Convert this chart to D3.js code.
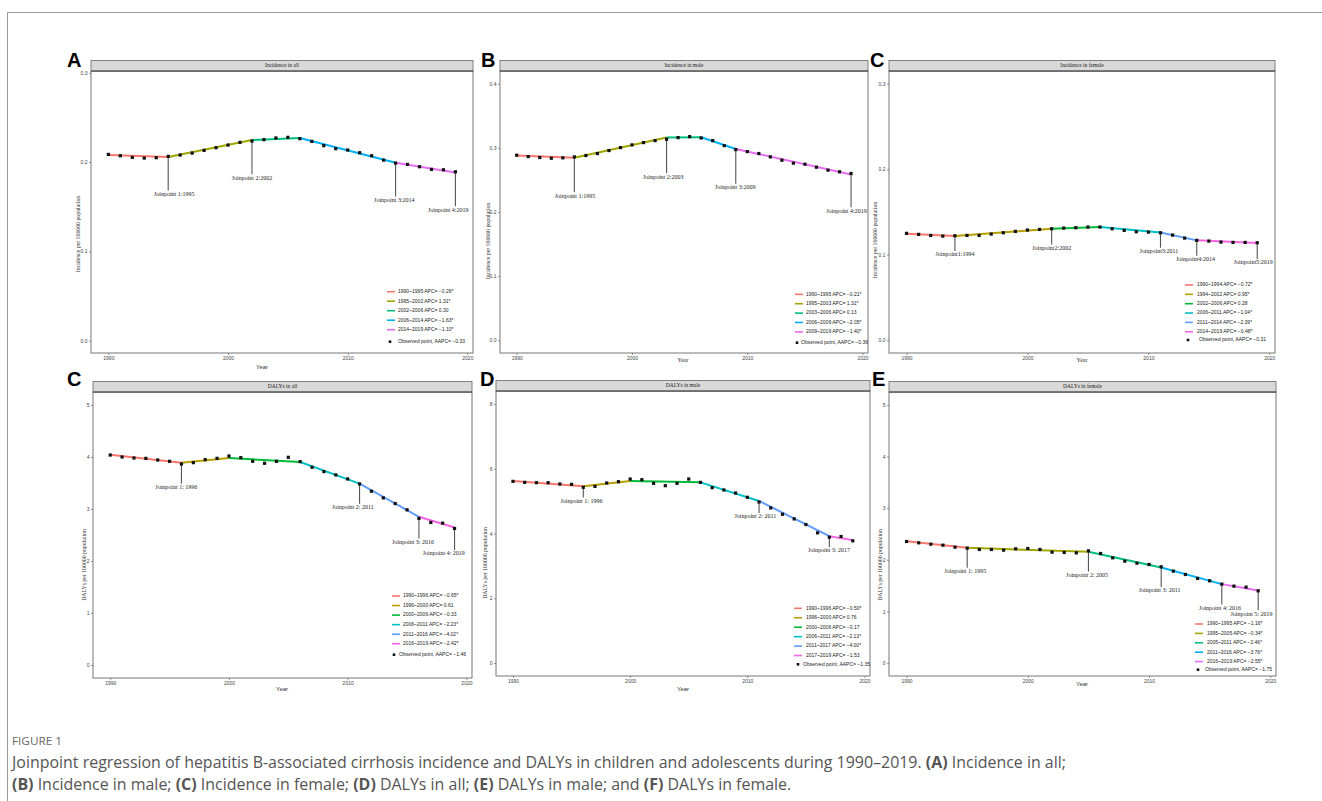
<!DOCTYPE html>
<html>
<head>
<meta charset="utf-8">
<script src="https://cdn.jsdelivr.net/npm/d3@7"></script>
<style>
  body { margin: 0; background: #fff; }
  svg { display: block; }
</style>
</head>
<body>
<div id="chart"></div>
<script>
const years = [1990,1991,1992,1993,1994,1995,1996,1997,1998,1999,2000,2001,2002,2003,2004,
               2005,2006,2007,2008,2009,2010,2011,2012,2013,2014,2015,2016,2017,2018,2019];
const xTicks = [1990, 2000, 2010, 2020];

// A: incidence in all
const incAllObs = [0.2086,0.2071,0.2052,0.2045,0.2049,0.2064,0.2079,0.2101,0.2131,0.2161,0.2191,0.2221,0.2236,0.2251,0.2270,
                   0.2277,0.2262,0.2232,0.2184,0.2150,0.2135,0.2105,0.2071,0.2022,0.1989,0.1974,0.1948,0.1918,0.1914,0.1891];
const incAllJoin = [1990,1995,2002,2006,2014,2019];
const incAllFit = [0.2079,0.2056,0.2247,0.2270,0.1993,0.1884];
const incAllLegend = ["1990~1995 APC= \u22120.26*","1995~2002 APC= 1.31*","2002~2006 APC= 0.30","2006~2014 APC= \u22121.63*","2014~2019 APC= \u22121.10*"];
const incAllAapc = "Observed point, AAPC= \u22120.33";
const incAllJpYear = [1995,2002,2014,2019];
const incAllJpText = ["Joinpoint 1:1995","Joinpoint 2:2002","Joinpoint 3:2014","Joinpoint 4:2019"];
const incAllJpX = [1995.5,2002.0,2013.9,2018.4];
const incAllJpY = [0.1637,0.1820,0.1569,0.1461];

// B: incidence in male
const incMaleObs = [0.2886,0.2865,0.2850,0.2839,0.2845,0.2860,0.2881,0.2912,0.2959,0.3005,0.3047,0.3083,0.3114,0.3135,0.3161,
                    0.3176,0.3155,0.3114,0.3036,0.2974,0.2943,0.2912,0.2860,0.2808,0.2762,0.2746,0.2699,0.2653,0.2627,0.2601];
const incMaleJoin = [1990,1995,2003,2006,2009,2019];
const incMaleFit = [0.2881,0.2845,0.3161,0.3166,0.2984,0.2585];
const incMaleLegend = ["1990~1995 APC= \u22120.21*","1995~2003 APC= 1.31*","2003~2006 APC= 0.13","2006~2009 APC= \u22122.05*","2009~2019 APC= \u22121.40*"];
const incMaleAapc = "Observed point, AAPC= \u22120.36";
const incMaleJpYear = [1995,2003,2009,2019];
const incMaleJpText = ["Joinpoint 1:1995","Joinpoint 2:2003","Joinpoint 3:2009","Joinpoint 4:2019"];
const incMaleJpX = [1995.05,2002.7,2008.95,2018.6];
const incMaleJpY = [0.2244,0.2544,0.2378,0.2010];

// C: incidence in female
const incFemaleObs = [0.1250,0.1238,0.1226,0.1218,0.1222,0.1226,0.1226,0.1242,0.1257,0.1273,0.1289,0.1296,0.1304,0.1312,0.1316,
                      0.1324,0.1324,0.1304,0.1285,0.1269,0.1265,0.1257,0.1230,0.1195,0.1168,0.1160,0.1148,0.1144,0.1144,0.1140];
const incFemaleJoin = [1990,1994,2002,2006,2011,2014,2019];
const incFemaleFit = [0.1246,0.1218,0.1304,0.1324,0.1261,0.1168,0.1136];
const incFemaleLegend = ["1990~1994 APC= \u22120.72*","1994~2002 APC= 0.95*","2002~2006 APC= 0.28","2006~2011 APC= \u22121.04*","2011~2014 APC= \u22122.39*","2014~2019 APC= \u22120.48*"];
const incFemaleAapc = "Observed point, AAPC= \u22120.31";
const incFemaleJpYear = [1994,2002,2011,2014,2019];
const incFemaleJpText = ["Joinpoint1:1994","Joinpoint2:2002","Joinpoint3:2011","Joinpoint4:2014","Joinpoint5:2019"];
const incFemaleJpX = [1994.0,2002.0,2010.87,2013.9,2018.67];
const incFemaleJpY = [0.0996,0.1074,0.1035,0.0942,0.0903];

// D: DALYs in all
const dalyAllObs = [4.038,4.000,3.981,3.974,3.942,3.917,3.866,3.891,3.949,3.974,4.019,3.987,3.917,3.879,3.917,
                    3.994,3.911,3.802,3.719,3.655,3.578,3.482,3.342,3.214,3.105,2.984,2.818,2.741,2.728,2.626];
const dalyAllJoin = [1990,1996,2000,2006,2011,2016,2019];
const dalyAllFit = [4.045,3.891,3.981,3.904,3.489,2.850,2.645];
const dalyAllLegend = ["1990~1996 APC= \u22120.65*","1996~2000 APC= 0.61","2000~2006 APC= \u22120.33","2006~2011 APC= \u22122.23*","2011~2016 APC= \u22124.02*","2016~2019 APC= \u22122.42*"];
const dalyAllAapc = "Observed point, AAPC= \u22121.46";
const dalyAllJpYear = [1996,2011,2016,2019];
const dalyAllJpText = ["Joinpoint 1: 1996","Joinpoint 2: 2011","Joinpoint 3: 2016","Joinpoint 4: 2019"];
const dalyAllJpX = [1995.57,2010.43,2015.5,2018.09];
const dalyAllJpY = [3.412,3.022,2.358,2.134];

// E: DALYs in male
const dalyMaleObs = [5.610,5.579,5.569,5.569,5.528,5.518,5.426,5.456,5.559,5.600,5.682,5.662,5.549,5.477,5.549,
                     5.682,5.579,5.415,5.344,5.251,5.118,4.974,4.790,4.595,4.451,4.277,4.021,3.887,3.908,3.774];
const dalyMaleJoin = [1990,1996,2000,2006,2011,2017,2019];
const dalyMaleFit = [5.621,5.456,5.621,5.579,5.005,3.918,3.795];
const dalyMaleLegend = ["1990~1996 APC= \u22120.50*","1996~2000 APC= 0.76","2000~2006 APC= \u22120.17","2006~2011 APC= \u22122.13*","2011~2017 APC= \u22124.00*","2017~2019 APC= \u22121.53"];
const dalyMaleAapc = "Observed point, AAPC= \u22121.35";
const dalyMaleJpYear = [1996,2011,2017];
const dalyMaleJpText = ["Joinpoint 1: 1996","Joinpoint 2: 2011","Joinpoint 3: 2017"];
const dalyMaleJpX = [1995.84,2010.68,2016.97];
const dalyMaleJpY = [4.985,4.513,3.456];

// F: DALYs in female
const dalyFemaleObs = [2.355,2.329,2.303,2.284,2.245,2.226,2.200,2.200,2.187,2.213,2.219,2.200,2.148,2.142,2.135,
                       2.174,2.123,2.039,1.974,1.935,1.910,1.865,1.781,1.716,1.639,1.594,1.529,1.490,1.471,1.400];
const dalyFemaleJoin = [1990,1995,2005,2011,2016,2019];
const dalyFemaleFit = [2.361,2.232,2.155,1.852,1.529,1.406];
const dalyFemaleLegend = ["1990~1995 APC= \u22121.16*","1995~2005 APC= \u22120.34*","2005~2011 APC= \u22122.46*","2011~2016 APC= \u22123.76*","2016~2019 APC= \u22122.55*"];
const dalyFemaleAapc = "Observed point, AAPC= \u22121.75";
const dalyFemaleJpYear = [1995,2005,2011,2016,2019];
const dalyFemaleJpText = ["Joinpoint 1: 1995","Joinpoint 2: 2005","Joinpoint 3: 2011","Joinpoint 4: 2016","Joinpoint 5: 2019"];
const dalyFemaleJpX = [1994.83,2004.89,2010.87,2015.86,2018.45];
const dalyFemaleJpY = [1.768,1.697,1.394,1.058,0.948];

const hue5 = ["#F8766D","#A3A500","#00BF7D","#00B0F6","#E76BF3"];
const hue6 = ["#F8766D","#B79F00","#00BA38","#00BFC4","#619CFF","#F564E3"];

const width = 1322, height = 801;
const serif = "'Liberation Serif', 'Times New Roman', serif";
const sans = "'Liberation Sans', Arial, sans-serif";

const panels = [
  {letter:"A", title:"Incidence in all", ylab:"Incidence per 100000 population",
   obs:incAllObs, join:incAllJoin, fit:incAllFit, legend:incAllLegend, aapc:incAllAapc,
   jpYear:incAllJpYear, jpText:incAllJpText, jpX:incAllJpX, jpY:incAllJpY, colors:hue5, yTicks:[0,0.1,0.2,0.3], fmt:".1f",
   box:{x0:91, x1:473, y0:71, y1:353}, yDom:[-0.0138,0.302], letterPos:[67,67],
   ylabPos:[79,234], xlabPos:[262,367], xlabFont:sans,
   leg:{lx:387, tx:398, y0:291.7, dy:9.5, ox:390, otx:398, oy:341.7}},
  {letter:"B", title:"Incidence in male", ylab:"Incidence per 100000 population",
   obs:incMaleObs, join:incMaleJoin, fit:incMaleFit, legend:incMaleLegend, aapc:incMaleAapc,
   jpYear:incMaleJpYear, jpText:incMaleJpText, jpX:incMaleJpX, jpY:incMaleJpY, colors:hue5, yTicks:[0,0.1,0.2,0.3,0.4], fmt:".1f",
   box:{x0:500, x1:868, y0:71, y1:353}, yDom:[-0.02,0.42], letterPos:[481,67],
   ylabPos:[489,241], xlabPos:[683,361], xlabFont:serif,
   leg:{lx:795, tx:806, y0:294.3, dy:9.4, ox:797, otx:801, oy:342.7}},
  {letter:"C", title:"Incidence in female", ylab:"Incidence per 100000 population",
   obs:incFemaleObs, join:incFemaleJoin, fit:incFemaleFit, legend:incFemaleLegend, aapc:incFemaleAapc,
   jpYear:incFemaleJpYear, jpText:incFemaleJpText, jpX:incFemaleJpX, jpY:incFemaleJpY, colors:hue6, yTicks:[0,0.1,0.2,0.3], fmt:".1f",
   box:{x0:889, x1:1275, y0:71, y1:353}, yDom:[-0.015,0.315], letterPos:[870,67],
   ylabPos:[876,240], xlabPos:[1082,361], xlabFont:serif,
   leg:{lx:1185, tx:1197, y0:285, dy:9.35, ox:1188, otx:1199, oy:340}},
  {letter:"C", title:"DALYs in all", ylab:"DALYs per 100000 population",
   obs:dalyAllObs, join:dalyAllJoin, fit:dalyAllFit, legend:dalyAllLegend, aapc:dalyAllAapc,
   jpYear:dalyAllJpYear, jpText:dalyAllJpText, jpX:dalyAllJpX, jpY:dalyAllJpY, colors:hue6, yTicks:[0,1,2,3,4,5], fmt:"d",
   box:{x0:93, x1:472, y0:392, y1:678}, yDom:[-0.25,5.25], letterPos:[67,386],
   ylabPos:[85,565], xlabPos:[282,689], xlabFont:sans,
   leg:{lx:392, tx:403, y0:596, dy:9.55, ox:394, otx:399, oy:654.7}},
  {letter:"D", title:"DALYs in male", ylab:"DALYs per 100000 population",
   obs:dalyMaleObs, join:dalyMaleJoin, fit:dalyMaleFit, legend:dalyMaleLegend, aapc:dalyMaleAapc,
   jpYear:dalyMaleJpYear, jpText:dalyMaleJpText, jpX:dalyMaleJpX, jpY:dalyMaleJpY, colors:hue6, yTicks:[0,2,4,6,8], fmt:"d",
   box:{x0:496, x1:870, y0:391, y1:676}, yDom:[-0.4,8.4], letterPos:[480,386],
   ylabPos:[486,563], xlabPos:[683,689], xlabFont:sans,
   leg:{lx:794, tx:806, y0:608.3, dy:9.45, ox:798, otx:803, oy:664.3}},
  {letter:"E", title:"DALYs in female", ylab:"DALYs per 100000 population",
   obs:dalyFemaleObs, join:dalyFemaleJoin, fit:dalyFemaleFit, legend:dalyFemaleLegend, aapc:dalyFemaleAapc,
   jpYear:dalyFemaleJpYear, jpText:dalyFemaleJpText, jpX:dalyFemaleJpX, jpY:dalyFemaleJpY, colors:hue5, yTicks:[0,1,2,3,4,5], fmt:"d",
   box:{x0:889, x1:1276, y0:392, y1:676}, yDom:[-0.25,5.25], letterPos:[872,386],
   ylabPos:[881,565], xlabPos:[1082,684], xlabFont:sans,
   leg:{lx:1195, tx:1207, y0:624, dy:9.4, ox:1198, otx:1205, oy:669.7}}
];

const svg = d3.select("#chart").append("svg")
  .attr("width", width)
  .attr("height", height);

// outer frame (top + left edge only visible)
svg.append("path")
  .attr("d", `M7.5,${height} V12.5 H${width}`)
  .attr("fill", "none")
  .attr("stroke", "#9a9a9a")
  .attr("stroke-width", 1);

panels.forEach(function(p) {
  const b = p.box;
  const x = d3.scaleLinear().domain([1988.55, 2020.47]).range([b.x0, b.x1]);
  const y = d3.scaleLinear().domain(p.yDom).range([b.y1, b.y0]);
  const g = svg.append("g");

  // panel letter
  g.append("text")
    .attr("x", p.letterPos[0]).attr("y", p.letterPos[1])
    .style("font-family", sans).style("font-weight", "bold").style("font-size", "20px")
    .text(p.letter);

  // plot background + border
  g.append("rect")
    .attr("x", b.x0).attr("y", b.y0)
    .attr("width", b.x1 - b.x0).attr("height", b.y1 - b.y0)
    .attr("fill", "#fff").attr("stroke", "#777").attr("stroke-width", 1);

  // strip
  g.append("rect")
    .attr("x", b.x0).attr("y", b.y0 - 10.5)
    .attr("width", b.x1 - b.x0).attr("height", 10.5)
    .attr("fill", "#d9d9d9").attr("stroke", "#666").attr("stroke-width", 0.8);
  g.append("line")
    .attr("x1", b.x0).attr("x2", b.x1).attr("y1", b.y0).attr("y2", b.y0)
    .attr("stroke", "#444").attr("stroke-width", 1.2);
  g.append("text")
    .attr("x", (b.x0 + b.x1) / 2).attr("y", b.y0 - 5.2)
    .attr("text-anchor", "middle").attr("dominant-baseline", "middle")
    .style("font-family", serif).style("font-size", "5.5px").style("fill", "#222")
    .text(p.title);

  // axes
  const yAxis = g.append("g")
    .attr("transform", `translate(${b.x0},0)`)
    .call(d3.axisLeft(y).tickValues(p.yTicks).tickSize(2).tickPadding(1.5).tickFormat(d3.format(p.fmt)));
  const xAxis = g.append("g")
    .attr("transform", `translate(0,${b.y1})`)
    .call(d3.axisBottom(x).tickValues(xTicks).tickSize(2).tickPadding(1.5).tickFormat(d3.format("d")));
  [yAxis, xAxis].forEach(function(a) {
    a.select(".domain").remove();
    a.selectAll(".tick line").attr("stroke", "#555").attr("stroke-width", 0.6);
    a.selectAll(".tick text")
      .style("font-family", sans).style("font-size", "5px").style("fill", "#444");
  });

  // axis titles
  g.append("text")
    .attr("transform", `translate(${p.ylabPos[0]},${p.ylabPos[1]}) rotate(-90)`)
    .attr("text-anchor", "middle").attr("dominant-baseline", "middle")
    .style("font-family", serif).style("font-size", "5.8px").style("fill", "#333")
    .text(p.ylab);
  g.append("text")
    .attr("x", p.xlabPos[0]).attr("y", p.xlabPos[1])
    .attr("text-anchor", "middle").attr("dominant-baseline", "middle")
    .style("font-family", p.xlabFont).style("font-size", "6px").style("fill", "#333")
    .text("Year");

  // fitted segments
  const line = d3.line().x(d => x(d[0])).y(d => y(d[1]));
  for (let i = 0; i < p.join.length - 1; i++) {
    g.append("path")
      .attr("d", line([[p.join[i], p.fit[i]], [p.join[i + 1], p.fit[i + 1]]]))
      .attr("fill", "none")
      .attr("stroke", p.colors[i])
      .attr("stroke-width", 2)
      .attr("stroke-linecap", "butt");
  }

  // joinpoint annotations
  p.jpText.forEach(function(t, i) {
    const yr = p.jpYear[i];
    const fy = y(p.fit[p.join.indexOf(yr)]);
    const ly = y(p.jpY[i]);
    g.append("line")
      .attr("x1", x(yr)).attr("x2", x(yr))
      .attr("y1", fy).attr("y2", ly - 4)
      .attr("stroke", "#555").attr("stroke-width", 1.1);
    g.append("text")
      .attr("x", x(p.jpX[i])).attr("y", ly)
      .attr("text-anchor", "middle").attr("dominant-baseline", "middle")
      .style("font-family", serif).style("font-size", "6px").style("fill", "#222")
      .text(t);
  });

  // observed points
  g.selectAll(".pt")
    .data(p.obs)
    .enter()
    .append("rect")
    .attr("class", "pt")
    .attr("x", (d, i) => x(years[i]) - 1.6)
    .attr("y", d => y(d) - 1.6)
    .attr("width", 3.2).attr("height", 3.2)
    .attr("fill", "#111");

  // legend
  const L = p.leg;
  p.legend.forEach(function(t, i) {
    const ly = L.y0 + i * L.dy;
    g.append("line")
      .attr("x1", L.lx).attr("x2", L.lx + 8)
      .attr("y1", ly).attr("y2", ly)
      .attr("stroke", p.colors[i]).attr("stroke-width", 1.6);
    g.append("text")
      .attr("x", L.tx).attr("y", ly)
      .attr("dominant-baseline", "middle")
      .style("font-family", sans).style("font-size", "5px").style("fill", "#222")
      .text(t);
  });
  g.append("rect")
    .attr("x", L.ox - 1.3).attr("y", L.oy - 1.3)
    .attr("width", 2.6).attr("height", 2.6).attr("fill", "#111");
  g.append("text")
    .attr("x", L.otx).attr("y", L.oy)
    .attr("dominant-baseline", "middle")
    .style("font-family", sans).style("font-size", "5px").style("fill", "#222")
    .text(p.aapc);
});

// caption
const capFont = "'Open Sans', 'Liberation Sans', sans-serif";
svg.append("text")
  .attr("x", 12).attr("y", 745)
  .style("font-family", capFont).style("font-size", "11px").style("fill", "#666")
  .attr("textLength", 50).attr("lengthAdjust", "spacingAndGlyphs")
  .text("FIGURE 1");

function captionLine(yPos, parts) {
  const t = svg.append("text")
    .attr("x", 12).attr("y", yPos)
    .style("font-family", capFont).style("font-size", "15.5px").style("fill", "#555");
  parts.forEach(function(s) {
    t.append("tspan")
      .style("font-weight", s[1] ? "bold" : "normal")
      .text(s[0]);
  });
  return t;
}
const cap1 = captionLine(768, [
  ["Joinpoint regression of hepatitis B-associated cirrhosis incidence and DALYs in children and adolescents during 1990\u20132019. ", false],
  ["(A)", true], [" Incidence in all;", false]
]);
const cap2 = captionLine(790, [
  ["(B)", true], [" Incidence in male; ", false], ["(C)", true], [" Incidence in female; ", false],
  ["(D)", true], [" DALYs in all; ", false], ["(E)", true], [" DALYs in male; and ", false],
  ["(F)", true], [" DALYs in female.", false]
]);
// condensed look: squeeze both lines by the same factor so line 1 spans the reference width
const squeeze = 1054 / cap1.node().getComputedTextLength();
[cap1, cap2].forEach(function(t) {
  const w = t.node().getComputedTextLength();
  t.attr("textLength", w * squeeze).attr("lengthAdjust", "spacingAndGlyphs");
});
</script>
</body>
</html>
